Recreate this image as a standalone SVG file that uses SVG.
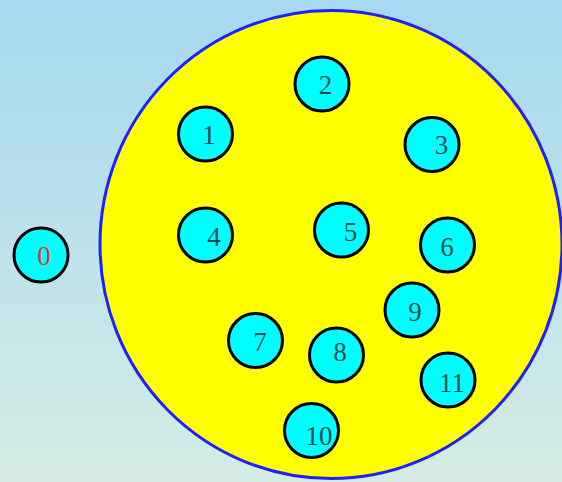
<svg xmlns="http://www.w3.org/2000/svg" width="562" height="482" viewBox="0 0 562 482">
<defs>
<linearGradient id="bg" x1="0" y1="0" x2="0" y2="1">
<stop offset="0" stop-color="#a6d8f0"/>
<stop offset="1" stop-color="#d4ece4"/>
</linearGradient>
<style>
.n{fill:#00ffff;stroke:#000;stroke-width:3}
.t{font-family:"Liberation Serif",serif;font-size:27px;fill:#144e4e;text-anchor:middle}
</style>
</defs>
<rect width="562" height="482" fill="url(#bg)"/>
<ellipse id="region" cx="331" cy="244.5" rx="231" ry="234" fill="#ffff00" stroke="#2020ff" stroke-width="3"/>
<g id="connectors"></g>
<g id="n0"><circle class="n" cx="41" cy="255" r="27"/><text class="t" x="44" y="265" style="fill:#e83030">0</text></g>
<g id="n1"><circle class="n" cx="205.5" cy="134" r="27"/><text class="t" x="209" y="144">1</text></g>
<g id="n2"><circle class="n" cx="322" cy="84" r="27"/><text class="t" x="325.5" y="94">2</text></g>
<g id="n3"><circle class="n" cx="432" cy="144.5" r="27"/><text class="t" x="441.5" y="154">3</text></g>
<g id="n4"><circle class="n" cx="205.5" cy="235" r="27"/><text class="t" x="214" y="246">4</text></g>
<g id="n5"><circle class="n" cx="341.5" cy="230" r="27"/><text class="t" x="350.5" y="241">5</text></g>
<g id="n6"><circle class="n" cx="447.5" cy="245" r="27"/><text class="t" x="447" y="256">6</text></g>
<g id="n7"><circle class="n" cx="255.5" cy="340.5" r="27"/><text class="t" x="260" y="351">7</text></g>
<g id="n8"><circle class="n" cx="336.5" cy="355" r="27"/><text class="t" x="340" y="361">8</text></g>
<g id="n9"><circle class="n" cx="412" cy="310" r="27"/><text class="t" x="415" y="321">9</text></g>
<g id="n10"><circle class="n" cx="311.5" cy="430.5" r="27"/><text class="t" x="319" y="445">10</text></g>
<g id="n11"><circle class="n" cx="448" cy="380" r="27"/><text class="t" x="452" y="392">11</text></g>
</svg>
